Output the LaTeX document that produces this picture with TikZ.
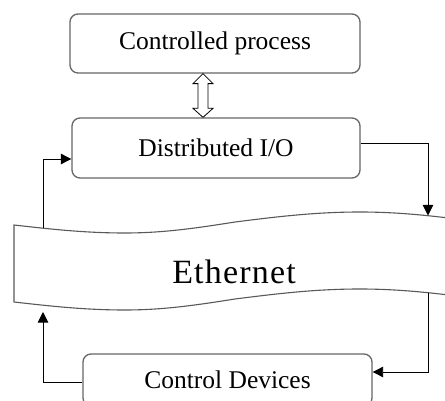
\documentclass[tikz,border=0pt]{standalone}
\usepackage{fontspec}
\setmainfont{Liberation Serif}
\newfontfamily\ethfont[LetterSpace=3.5]{Liberation Serif}
\usetikzlibrary{arrows.meta,calc}
\tikzset{
  box/.style={draw=black!60, line width=1.3pt, rounded corners=8pt, fill=white, inner sep=0pt},
  conn/.style={draw=black, line width=0.9pt},
  tip/.style={-{Triangle[length=10.5pt,width=10.5pt]}},
  tape/.style={draw=black!65, line width=1.1pt, fill=white},
  darr/.style={draw=black, line width=0.8pt, fill=white}
}
\begin{document}
\begin{tikzpicture}[x=1pt,y=-1pt]
\useasboundingbox (0,0) rectangle (445,401);
\clip (0,0) rectangle (445,401);
% boxes
\node[box, minimum width=290pt, minimum height=59pt, font=\fontsize{25.5pt}{28pt}\selectfont] (cp) at (215,43.5) {Controlled process};
\node[box, minimum width=288pt, minimum height=60pt, font=\fontsize{25.5pt}{28pt}\selectfont] (dio) at (216,148) {Distributed I/O};
\node[box, minimum width=289pt, minimum height=52pt, font=\fontsize{25.5pt}{28pt}\selectfont] (cd) at (227.5,380) {Control Devices};
% ethernet tape
\path[tape] (14,225) sin (125,233) cos (235,222) sin (360,212) cos (480,222)
  -- (480,299) sin (360,289) cos (235,299) sin (125,310) cos (14,302) -- cycle;
\node[font=\ethfont\fontsize{34pt}{38pt}\selectfont] (eth) at (234,272) {Ethernet};
% tape anchor coordinates
\coordinate (tTR) at (428,215.5);
\coordinate (tBR) at (428,292.7);
\coordinate (tTL) at (43,228.5);
\coordinate (tBL) at (43,312);
% double arrow between process and I/O
\coordinate (da1) at (cp.south -| 203,0);
\coordinate (da2) at (dio.north -| 203,0);
\draw[darr] (da1) -- ++(10,10) -- ++(-5,0) -- ($(da2)+(5,-9)$) -- ++(5,0) -- (da2)
  -- ++(-10,-9) -- ++(5,0) -- ($(da1)+(-5,10)$) -- ++(-5,0) -- cycle;
% connectors
\draw[conn,tip] (dio.east |- 0,143) -- (428,143) -- (tTR);
\draw[conn,tip] (tBR) -- (428,372) -- (cd.east |- 0,372);
\draw[conn,tip] (cd.west |- 0,382) -- (43,382) -- (tBL);
\draw[conn,tip] (tTL) -- (43,159) -- (dio.west |- 0,159);
\end{tikzpicture}
\end{document}
